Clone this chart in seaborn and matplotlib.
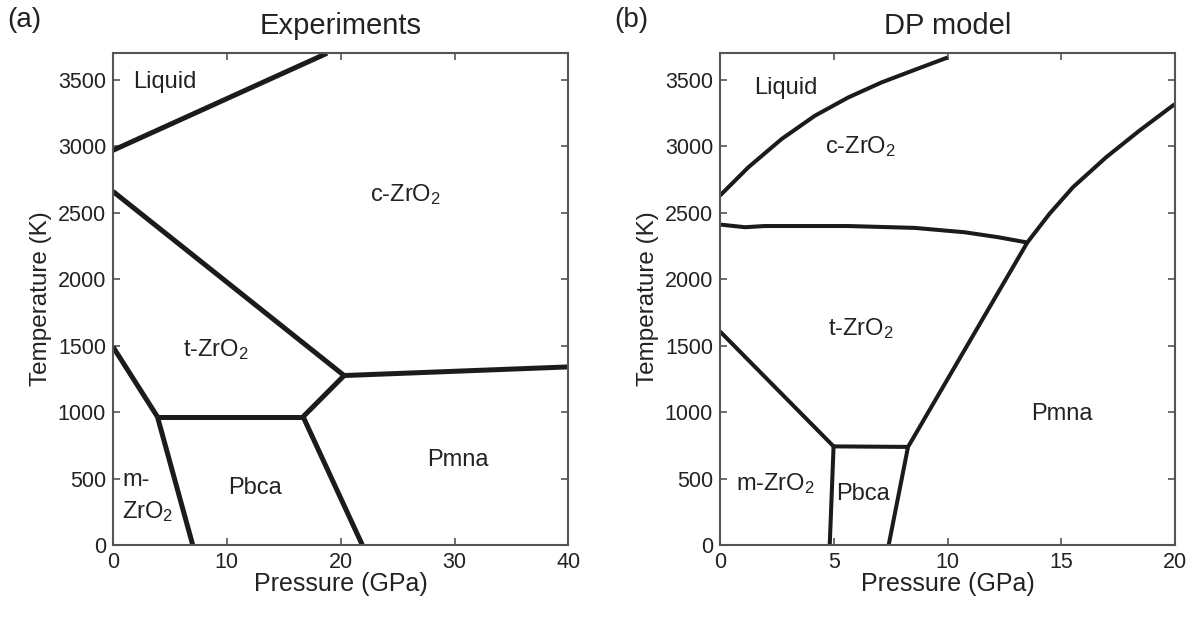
import matplotlib
matplotlib.use("Agg")
import matplotlib.pyplot as plt
import seaborn as sns
import pandas as pd

sns.set_theme(style="white")
plt.rcParams['font.family'] = ['Liberation Sans', 'DejaVu Sans']
plt.rcParams['mathtext.fontset'] = 'custom'
plt.rcParams['mathtext.rm'] = 'Liberation Sans'
plt.rcParams['mathtext.it'] = 'Liberation Sans:italic'

# ---------------- Panel (a) Experiments: phase boundaries (P in GPa, T in K)
exp_liquid_P = [0, 18.8]
exp_liquid_T = [2970, 3700]
exp_ct_P = [0, 20.3]
exp_ct_T = [2660, 1275]
exp_cP_P = [20.3, 40]
exp_cP_T = [1275, 1340]
exp_tP_P = [20.3, 16.7]
exp_tP_T = [1275, 965]
exp_tPb_P = [3.9, 16.7]
exp_tPb_T = [965, 965]
exp_mt_P = [0, 3.9]
exp_mt_T = [1490, 965]
exp_mPb_P = [3.9, 7.0]
exp_mPb_T = [965, 0]
exp_PbP_P = [16.7, 21.9]
exp_PbP_T = [965, 0]

# ---------------- Panel (b) DP model
dp_liquid_P = [0, 1.24, 2.71, 4.17, 5.63, 7.09, 8.55, 10.0]
dp_liquid_T = [2629, 2841, 3055, 3230, 3367, 3480, 3575, 3668]
dp_ct_P = [0, 1.10, 1.97, 5.63, 8.55, 10.75, 12.21, 13.5]
dp_ct_T = [2411, 2391, 2400, 2400, 2386, 2353, 2316, 2276]
dp_Pmna_P = [8.26, 13.5, 14.47, 15.5, 16.96, 18.42, 19.88, 20.0]
dp_Pmna_T = [738, 2276, 2491, 2691, 2917, 3117, 3305, 3318]
dp_PbP_P = [7.41, 8.26]
dp_PbP_T = [0, 738]
dp_tPb_P = [4.99, 8.26]
dp_tPb_T = [742, 738]
dp_mt_P = [0, 4.99]
dp_mt_T = [1607, 742]
dp_mPb_P = [4.82, 4.99]
dp_mPb_T = [0, 742]

exp_lines = [(exp_liquid_P, exp_liquid_T), (exp_ct_P, exp_ct_T), (exp_cP_P, exp_cP_T),
             (exp_tP_P, exp_tP_T), (exp_tPb_P, exp_tPb_T), (exp_mt_P, exp_mt_T),
             (exp_mPb_P, exp_mPb_T), (exp_PbP_P, exp_PbP_T)]
dp_lines = [(dp_liquid_P, dp_liquid_T), (dp_ct_P, dp_ct_T), (dp_Pmna_P, dp_Pmna_T),
            (dp_PbP_P, dp_PbP_T), (dp_tPb_P, dp_tPb_T),
            (dp_mt_P, dp_mt_T), (dp_mPb_P, dp_mPb_T)]

exp_labels = [("Liquid", 1.8, 3480, 'left'), ("c-ZrO$_2$", 25.7, 2640, 'center'),
              ("t-ZrO$_2$", 9.0, 1470, 'center'), ("Pmna", 30.3, 640, 'center'),
              ("Pbca", 12.5, 430, 'center'), ("m-", 0.8, 492, 'left'),
              ("ZrO$_2$", 0.8, 250, 'left')]
dp_labels = [("Liquid", 2.9, 3440, 'center'), ("c-ZrO$_2$", 6.15, 3000, 'center'),
             ("t-ZrO$_2$", 6.2, 1625, 'center'), ("Pmna", 15.0, 985, 'center'),
             ("Pbca", 6.3, 387, 'center'), ("m-ZrO$_2$", 2.45, 462, 'center')]

fig = plt.figure(figsize=(11.95, 6.17), dpi=100)
axL = fig.add_axes([0.0946, 0.1167, 0.381, 0.797])
axR = fig.add_axes([0.6025, 0.1167, 0.381, 0.797])

line_color = '#1c1a1b'

def draw(ax, lines, lw):
    for P, T in lines:
        df = pd.DataFrame({'P': P, 'T': T})
        sns.lineplot(data=df, x='P', y='T', sort=False, ax=ax, color=line_color,
                     linewidth=lw, estimator=None, solid_capstyle='butt',
                     solid_joinstyle='round')

draw(axL, exp_lines, 3.6)
draw(axR, dp_lines, 2.9)

def style(ax, xmax, xticks, title, letter, labels):
    ax.set_xlim(0, xmax)
    ax.set_ylim(0, 3700)
    ax.set_xticks(xticks)
    ax.set_yticks([0, 500, 1000, 1500, 2000, 2500, 3000, 3500])
    ax.tick_params(direction='in', length=5, width=1.2, color='#555555',
                   labelsize=15.5, top=True, right=True, bottom=True, left=True,
                   labelcolor='#222222', pad=5)
    for s in ax.spines.values():
        s.set_color('#555555')
        s.set_linewidth(1.5)
    ax.set_xlabel('Pressure (GPa)', fontsize=18, color='#222222', labelpad=-1)
    ax.set_ylabel('Temperature (K)', fontsize=17.5, color='#222222', labelpad=4)
    ax.set_title(title, fontsize=21, color='#222222', pad=14)
    ax.text(-0.232, 1.067, letter, transform=ax.transAxes, fontsize=20,
            color='#222222', ha='left', va='center')
    for txt, x, y, ha in labels:
        ax.text(x, y, txt, fontsize=17, color='#222222', ha=ha, va='center')

style(axL, 40, [0, 10, 20, 30, 40], 'Experiments', '(a)', exp_labels)
style(axR, 20, [0, 5, 10, 15, 20], 'DP model', '(b)', dp_labels)

fig.savefig('out.png', dpi=100)
